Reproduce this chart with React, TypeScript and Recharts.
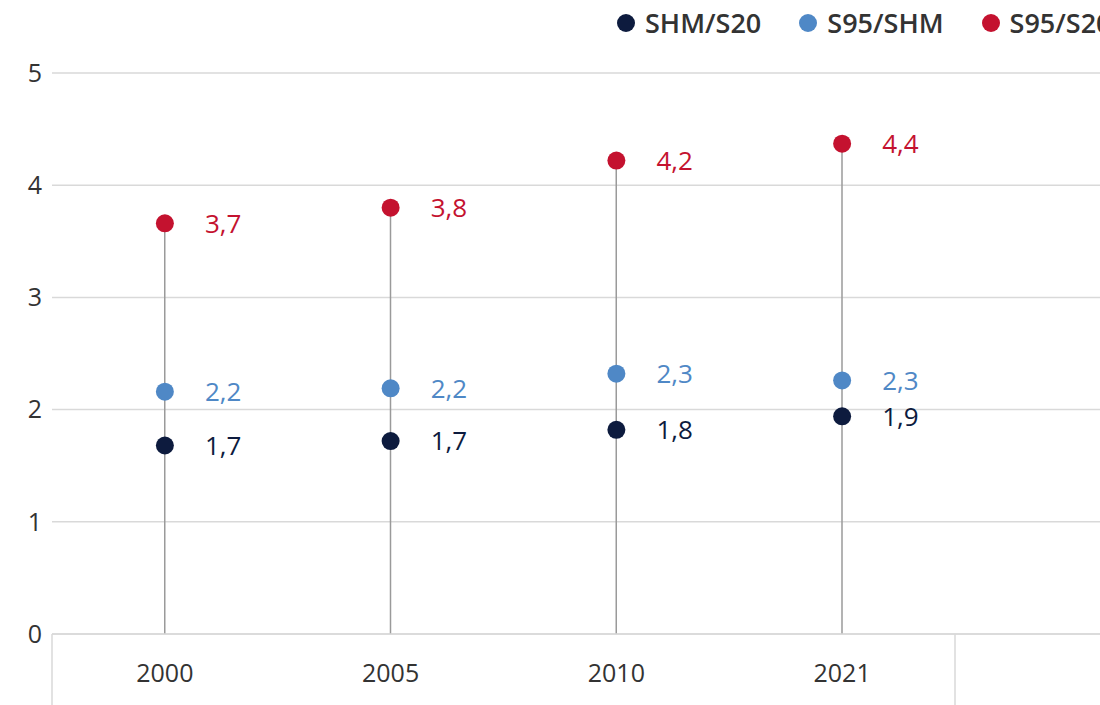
import {
  ComposedChart,
  Bar,
  Line,
  XAxis,
  YAxis,
  CartesianGrid,
  LabelList,
} from "recharts";

const years = ["2000", "2005", "2010", "2021"];
const shmS20 = [1.68, 1.72, 1.82, 1.94];
const s95Shm = [2.16, 2.19, 2.32, 2.26];
const s95S20 = [3.66, 3.8, 4.22, 4.37];
const yTicks = [0, 1, 2, 3, 4, 5];

const series = [
  { key: "shmS20", name: "SHM/S20", color: "#0d1b3e" },
  { key: "s95Shm", name: "S95/SHM", color: "#4f88c6" },
  { key: "s95S20", name: "S95/S20", color: "#c4122f" },
];

const data = years.map((year, i) => ({
  year,
  idx: i,
  shmS20: shmS20[i],
  s95Shm: s95Shm[i],
  s95S20: s95S20[i],
}));

const font = "'Open Sans', sans-serif";
const fmt = (v: number) => v.toFixed(1).replace(".", ",");

export default function App() {
  return (
    <div
      style={{
        position: "fixed",
        left: 0,
        top: 0,
        width: 1100,
        height: 705,
        overflow: "hidden",
        background: "#fff",
        fontFamily: font,
      }}
    >
      <style>{"html,body{margin:0;overflow:hidden}"}</style>

      <ComposedChart
        width={1200}
        height={705}
        data={data}
        margin={{ top: 73, right: 19, bottom: 0, left: 0 }}
      >
        <CartesianGrid vertical={false} stroke="#d9d9d9" strokeWidth={1.5} />
        <XAxis
          dataKey="year"
          padding={{ left: 0, right: 226 }}
          height={71}
          tickLine={false}
          tickSize={0}
          tickMargin={30}
          axisLine={{ stroke: "#d9d9d9", strokeWidth: 1.5 }}
          tick={{ fill: "#333", fontSize: 25, fontFamily: font }}
        />
        {/* band separators below the axis */}
        <XAxis
          xAxisId="sep"
          type="number"
          dataKey="idx"
          domain={[0, 4]}
          ticks={[0, 4]}
          padding={{ left: 0, right: 226 }}
          height={1}
          mirror
          axisLine={false}
          tickSize={-72}
          tickLine={{ stroke: "#d9d9d9", strokeWidth: 1.5 }}
          tickFormatter={() => ""}
        />
        <YAxis
          domain={[0, 5]}
          ticks={yTicks}
          width={52}
          axisLine={false}
          tickLine={false}
          tickSize={0}
          tickMargin={10}
          tick={{ fill: "#333", fontSize: 25, fontFamily: font }}
        />
        <Bar
          dataKey="s95S20"
          barSize={1.5}
          fill="#9a9a9a"
          legendType="none"
          isAnimationActive={false}
        />
        {series.map((s) => (
          <Line
            key={s.key}
            dataKey={s.key}
            name={s.name}
            stroke="none"
            dot={{ r: 9, fill: s.color, stroke: "none" }}
            activeDot={false}
            isAnimationActive={false}
          >
            <LabelList
              dataKey={s.key}
              position="right"
              offset={40}
              formatter={(v: any) => fmt(Number(v))}
              style={{ fill: s.color, fontSize: 26, fontFamily: font }}
            />
          </Line>
        ))}
      </ComposedChart>

      {/* legend */}
      <div
        style={{
          position: "absolute",
          left: 617,
          top: 4,
          zIndex: 2,
          display: "flex",
          alignItems: "center",
          whiteSpace: "nowrap",
          fontSize: 27,
          fontWeight: 600,
          color: "#333",
        }}
      >
        {series.map((s) => (
          <div
            key={s.key}
            style={{ display: "flex", alignItems: "center", marginRight: 38 }}
          >
            <span
              style={{
                width: 18,
                height: 18,
                borderRadius: 9,
                background: s.color,
                marginRight: 10,
                display: "inline-block",
              }}
            />
            <span>{s.name}</span>
          </div>
        ))}
      </div>
    </div>
  );
}
